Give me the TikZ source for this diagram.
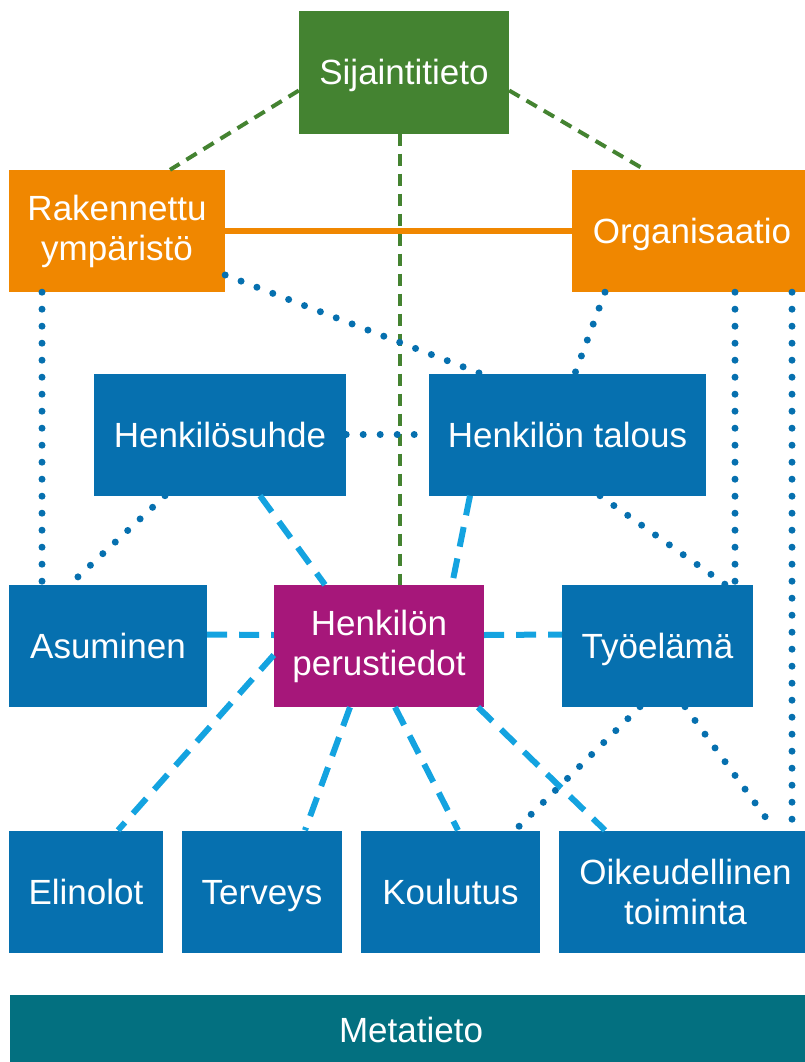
\documentclass[tikz,border=0pt]{standalone}
\usepackage{fontspec}
\setmainfont{Liberation Sans}
\usepackage{tikz}
\usetikzlibrary{positioning}
\definecolor{sgreen}{RGB}{68,131,49}
\definecolor{sorange}{RGB}{240,135,0}
\definecolor{sblue}{RGB}{6,112,175}
\definecolor{smagenta}{RGB}{166,23,122}
\definecolor{steal}{RGB}{3,112,128}
\definecolor{slight}{RGB}{20,163,224}
\tikzstyle{box}=[draw=none,text=white,align=center,inner sep=0pt,minimum height=122pt,font=\fontsize{35}{40}\selectfont]
\tikzstyle{oneline}=[text height=25pt,text depth=0pt]

\begin{document}
\begin{tikzpicture}[x=1pt,y=-1pt,
greenbox/.style={box,fill=sgreen},
orangebox/.style={box,fill=sorange},
bluebox/.style={box,fill=sblue},
mainbox/.style={box,fill=smagenta},
metabox/.style={box,fill=steal,minimum height=70pt},
geo/.style={draw=sgreen,line width=4pt,dash pattern=on 12pt off 8pt},
org/.style={draw=sorange,line width=6pt},
dots/.style={draw=sblue,line width=7pt,line cap=round,dash pattern=on 0pt off 17pt},
dashes/.style={draw=slight,line width=6pt,dash pattern=on 20pt off 12pt}]
\useasboundingbox (0,0) rectangle (805,1062);
\node [greenbox, oneline, minimum width=210pt] (sij) at (404,72.5) {Sijaintitieto};
\node [orangebox, minimum width=216pt] (rak) at (117,231) {Rakennettu\\ympäristö};
\node [orangebox, oneline, minimum width=240pt] (orga) at (692,231) {Organisaatio};
\node [bluebox, oneline, minimum width=252pt] (hsuhde) at (220,434.5) {Henkilösuhde};
\node [bluebox, oneline, minimum width=277pt] (htalous) at (567.5,434.5) {Henkilön talous};
\node [bluebox, oneline, minimum width=198pt] (asu) at (108,645.5) {Asuminen};
\node [mainbox, minimum width=210pt] (perus) at (379,646) {Henkilön\\perustiedot};
\node [bluebox, oneline, minimum width=191pt] (tyo) at (657.5,645.5) {Työelämä};
\node [bluebox, oneline, minimum width=154pt] (eli) at (86,891.5) {Elinolot};
\node [bluebox, oneline, minimum width=160pt] (ter) at (262,891.5) {Terveys};
\node [bluebox, oneline, minimum width=179pt] (kou) at (450.5,891.5) {Koulutus};
\node [bluebox, minimum width=253pt] (oik) at (685.5,891.5) {Oikeudellinen\\toiminta};
\node [metabox, oneline, minimum width=802pt] (meta) at (411,1030) {Metatieto};

\draw [geo] ([yshift=-18pt]sij.west) -- ([xshift=53pt]rak.north);
\draw [geo] ([yshift=-18pt]sij.east) -- ([xshift=-47pt]orga.north);
\draw [geo] ([xshift=-4pt]sij.south) -- ([xshift=21pt]perus.north);
\draw [org] (rak.east) -- (orga.west);

\draw [dots] ([xshift=-75pt]rak.south) -- ([xshift=-66pt]asu.north);
\draw [dots] ([yshift=-44pt]rak.east) -- ([xshift=-87.5pt]htalous.north);
\draw [dots] ([xshift=-87pt]orga.south) -- ([xshift=7.5pt]htalous.north);
\draw [dots] ([xshift=43pt]orga.south) -- ([xshift=77.5pt]tyo.north);
\draw [dots] ([xshift=100pt]orga.south) -- ([xshift=106.5pt]oik.north);
\draw [dots] (hsuhde.east) -- (htalous.west);
\draw [dots] ([xshift=-55pt]hsuhde.south) -- ([xshift=-38pt]asu.north);
\draw [dots] ([xshift=32.5pt]htalous.south) -- ([xshift=67.5pt]tyo.north);
\draw [dots] ([xshift=-17.5pt]tyo.south) -- ([xshift=64.5pt]kou.north);
\draw [dots] ([xshift=27.5pt]tyo.south) -- ([xshift=89.5pt]oik.north);

\draw [dashes] ([xshift=40pt]hsuhde.south) -- ([xshift=-54pt]perus.north);
\draw [dashes] ([xshift=-97.5pt]htalous.south) -- ([xshift=73pt]perus.north);
\draw [dashes] ([yshift=11pt]asu.east) -- ([yshift=11pt]perus.west);
\draw [dashes] ([yshift=11pt]perus.east) -- ([yshift=11pt]tyo.west);
\draw [dashes] ([yshift=-9pt]perus.west) -- ([xshift=32pt]eli.north);
\draw [dashes] ([xshift=-29pt]perus.south) -- ([xshift=43pt]ter.north);
\draw [dashes] ([xshift=16pt]perus.south) -- ([xshift=7.5pt]kou.north);
\draw [dashes] ([xshift=99pt]perus.south) -- ([xshift=-80.5pt]oik.north);
\end{tikzpicture}
\end{document}
